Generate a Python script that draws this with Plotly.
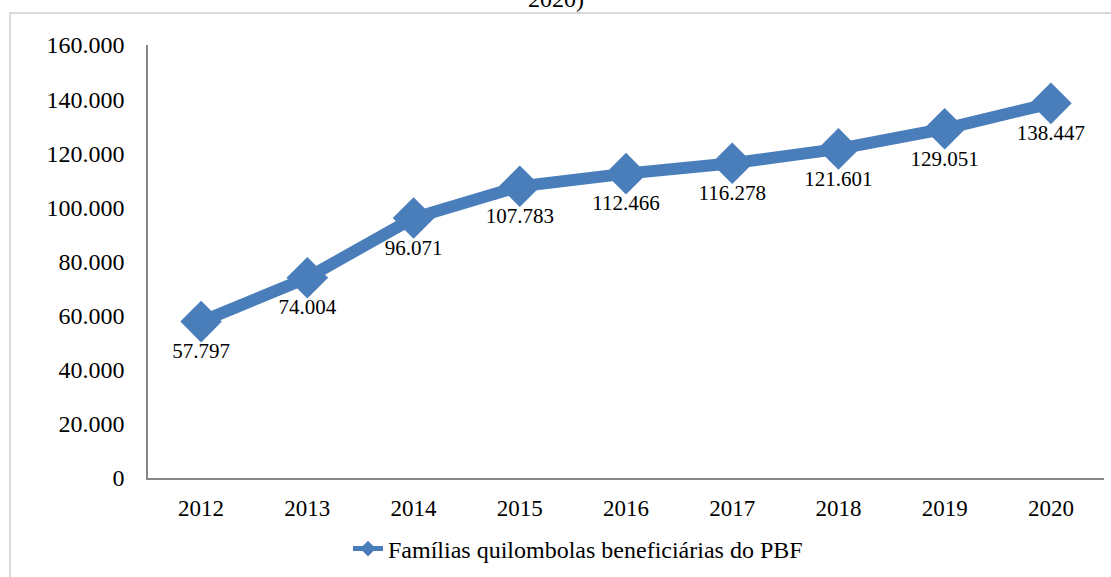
import plotly.graph_objects as go

years = ["2012", "2013", "2014", "2015", "2016", "2017", "2018", "2019", "2020"]
familias = [57797, 74004, 96071, 107783, 112466, 116278, 121601, 129051, 138447]
series_name = "Famílias quilombolas beneficiárias do PBF"
y_ticks = [0, 20000, 40000, 60000, 80000, 100000, 120000, 140000, 160000]

W, H = 1111, 577
L, R, T, B = 148, 7, 45, 98
pw, ph = W - L - R, H - T - B

def px_x(p):
    return (p - L) / pw

def px_y(p):
    return (H - B - p) / ph

BLUE = "#4A7EBB"
FONT = "Liberation Serif"

fig = go.Figure()
fig.add_trace(go.Scatter(
    x=years, y=familias, name=series_name,
    mode="lines+markers+text",
    line=dict(color=BLUE, width=12),
    marker=dict(symbol="diamond", size=32, color=BLUE),
    texttemplate="%{y:,}", textposition="bottom center",
    textfont=dict(family=FONT, size=21, color="black"),
    cliponaxis=False,
))

fig.update_layout(
    width=W, height=H,
    margin=dict(l=L, r=R, t=T, b=B, pad=0),
    paper_bgcolor="white", plot_bgcolor="white",
    separators=",.",
    font=dict(family=FONT, size=24, color="black"),
    showlegend=True,
    legend=dict(orientation="h", x=px_x(348), y=px_y(549), xanchor="left", yanchor="middle",
                itemsizing="constant",
                font=dict(family=FONT, size=24, color="black"), bgcolor="rgba(0,0,0,0)"),
    xaxis=dict(type="category", range=[-0.5, 8.5], showgrid=False, showline=True,
               linecolor="#868686", linewidth=1.5, ticks="", zeroline=False,
               tickfont=dict(family=FONT, size=23, color="black"), ticklabelstandoff=9),
    yaxis=dict(range=[0, 160000], tickvals=y_ticks, tickformat=",d", showgrid=False,
               showline=True, linecolor="#868686", linewidth=1.5, ticks="", zeroline=False,
               tickfont=dict(family=FONT, size=24, color="black"), ticklabelstandoff=17),
    shapes=[dict(type="rect", xref="paper", yref="paper",
                 x0=px_x(10), x1=px_x(1130), y0=px_y(600), y1=px_y(13),
                 line=dict(color="#D9D9D9", width=2), fillcolor="rgba(0,0,0,0)", layer="below")],
    annotations=[dict(text="2020)", xref="paper", yref="paper", x=px_x(556), y=px_y(14),
                      xanchor="center", yanchor="bottom", showarrow=False,
                      font=dict(family=FONT, size=24, color="black"))],
)

fig.write_html("out.html", config={"displayModeBar": False},
               post_script="document.body.style.margin='0';document.body.style.overflow='hidden';")
